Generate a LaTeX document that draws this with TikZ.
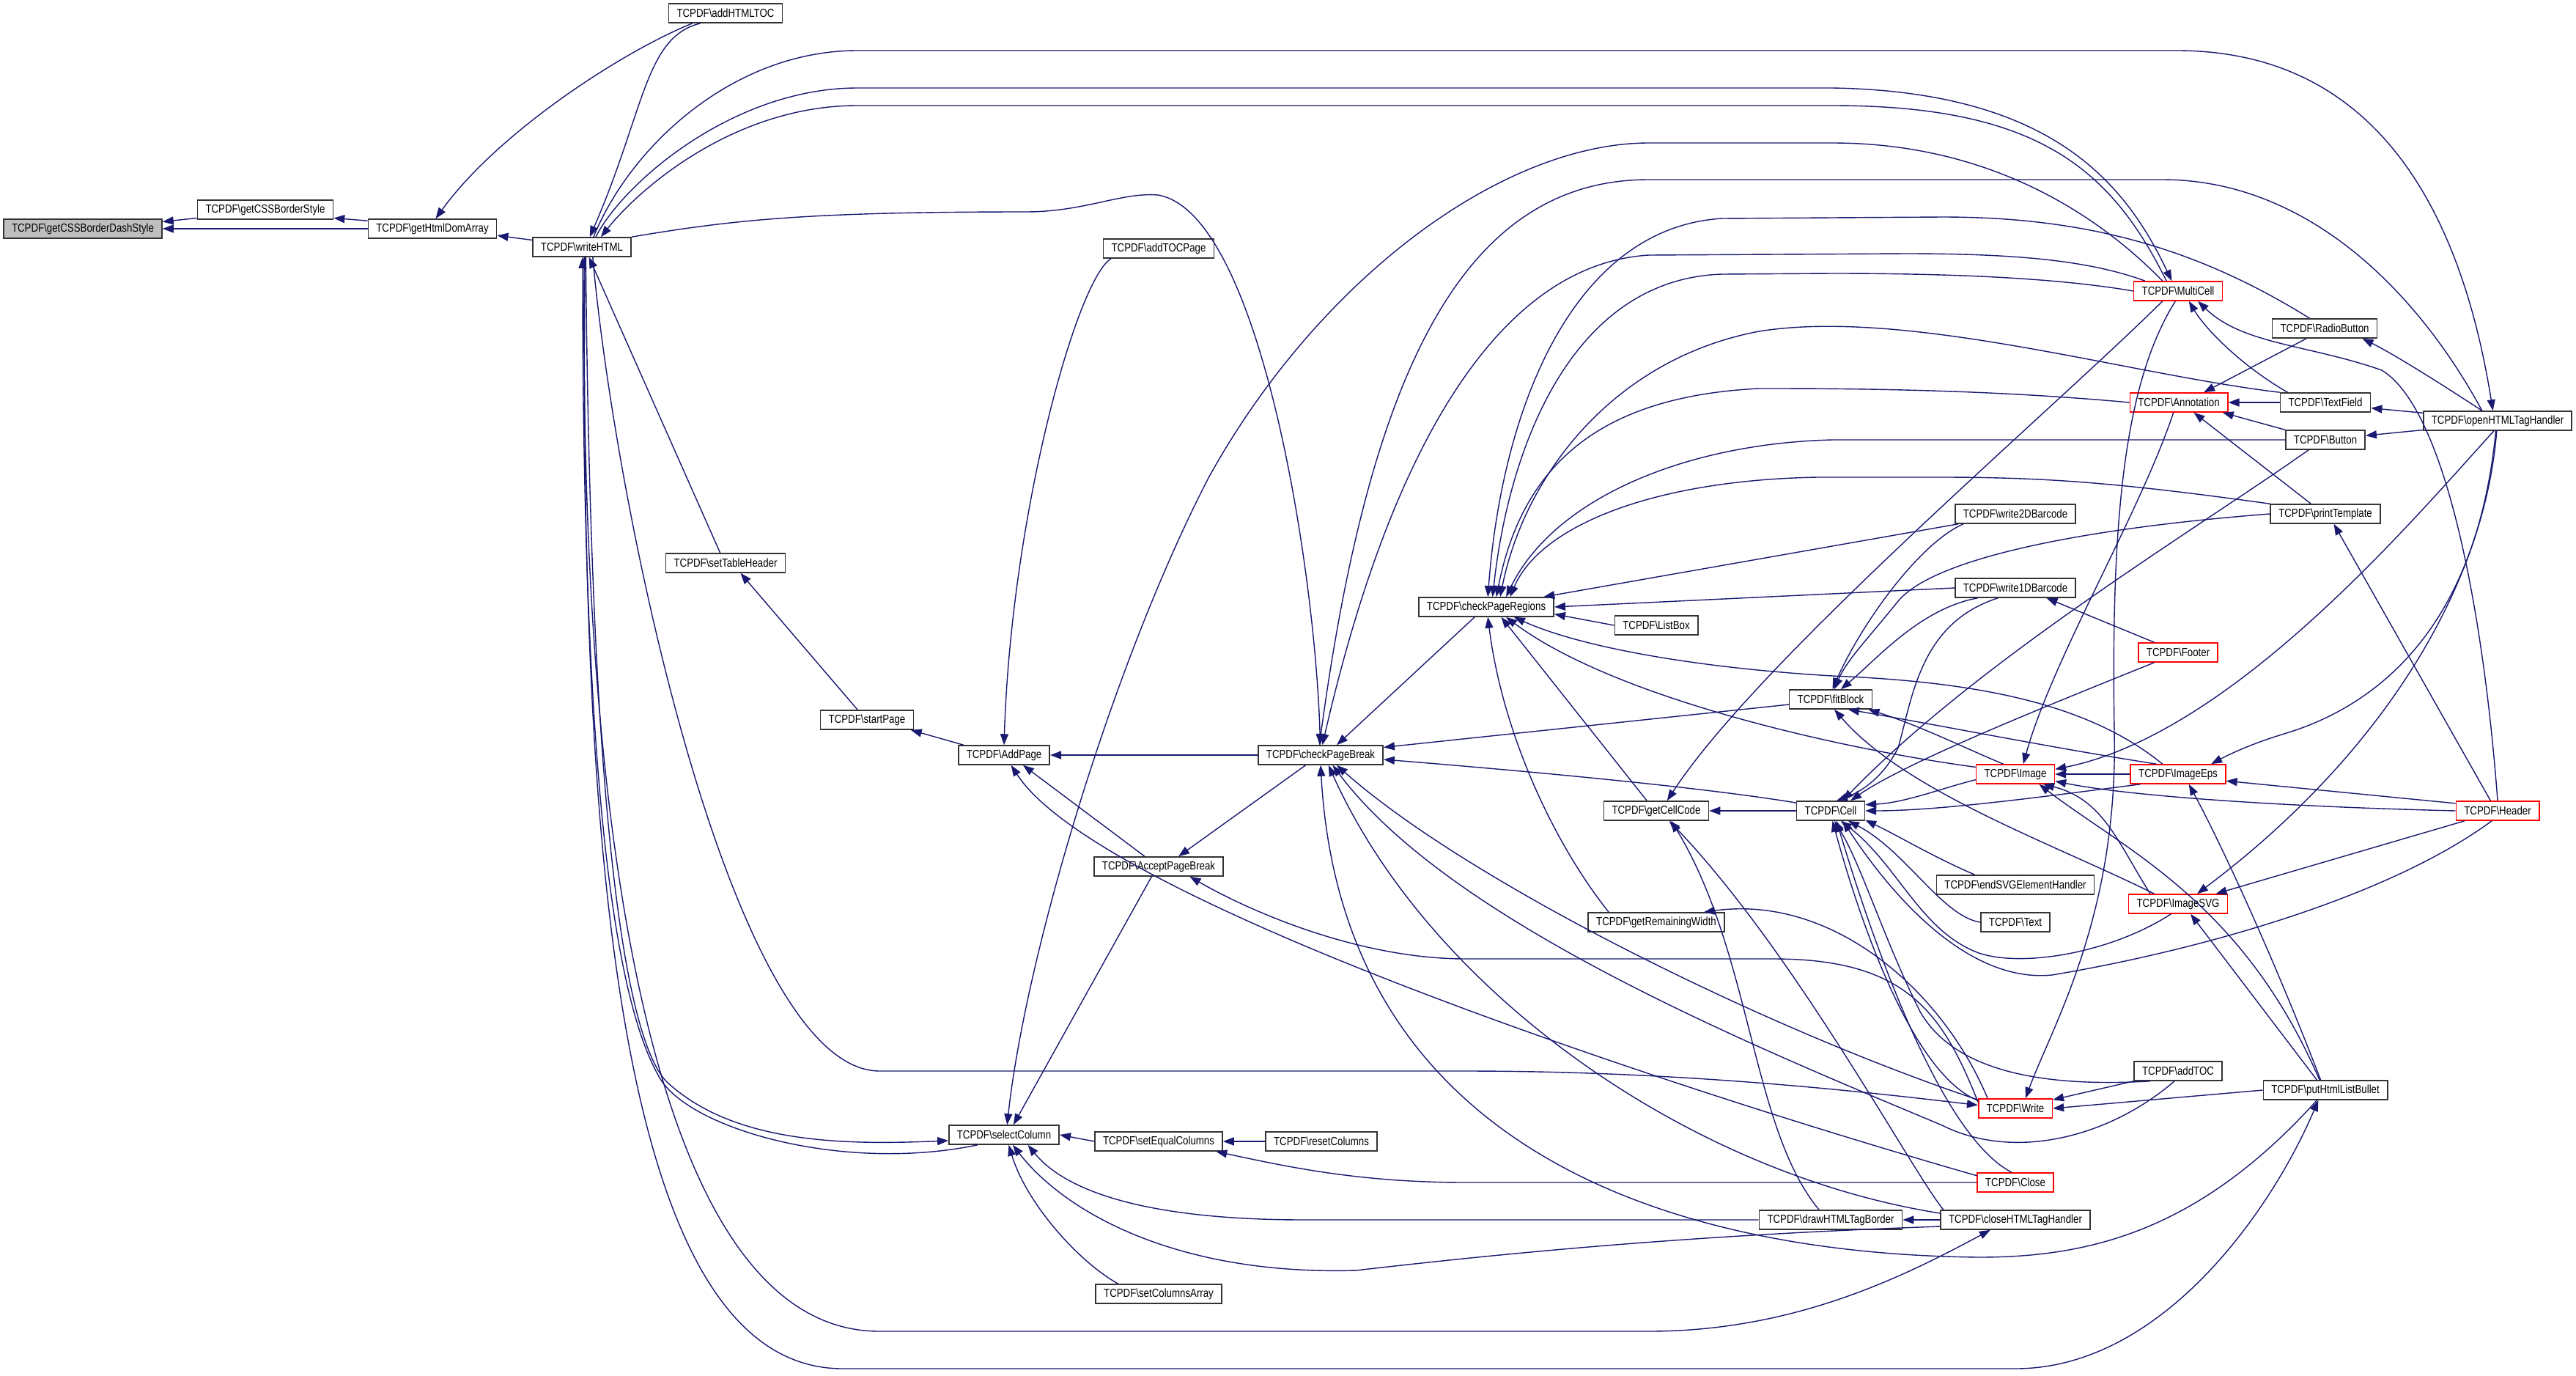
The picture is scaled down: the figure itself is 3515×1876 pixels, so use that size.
\documentclass[tikz,border=0pt]{standalone}
\usepackage{fontspec}
\setmainfont{Liberation Sans}[FakeStretch=0.83]
\usetikzlibrary{arrows.meta}
\definecolor{callblue}{RGB}{25,25,112}
\definecolor{rootgray}{RGB}{191,191,191}
\newcommand{\tc}[1]{TCPDF\textbackslash #1}
\tikzset{
  fn/.style={draw=black!80, line width=0.9pt, fill=white, font=\fontsize{9.1}{10}\selectfont,
    minimum height=0.52cm, inner ysep=0pt, inner xsep=0.22cm},
  fnred/.style={fn, draw=red},
  fnroot/.style={fn, fill=rootgray},
  call/.style={draw=callblue, line width=0.8pt, -{Triangle[length=0.3cm,width=0.22cm]}}
}
\begin{document}
\begin{tikzpicture}[x=0.02cm,y=-0.02cm]
  \useasboundingbox (0,0) rectangle (3515,1876);
  % functions
  \node[fnroot] (dash) at (113,312) {\tc{getCSSBorderDashStyle}};
  \node[fn] (cssstyle) at (362,286) {\tc{getCSSBorderStyle}};
  \node[fn] (domarray) at (590,312) {\tc{getHtmlDomArray}};
  \node[fn] (writehtml) at (794,337) {\tc{writeHTML}};
  \node[fn] (addhtmltoc) at (990,18) {\tc{addHTMLTOC}};
  \node[fn] (addtocpage) at (1581,339) {\tc{addTOCPage}};
  \node[fn] (settablehdr) at (990,768) {\tc{setTableHeader}};
  \node[fn] (startpage) at (1183,982) {\tc{startPage}};
  \node[fn] (addpage) at (1370,1030) {\tc{AddPage}};
  \node[fn] (acceptpb) at (1581,1182) {\tc{AcceptPageBreak}};
  \node[fn] (checkpb) at (1802,1030) {\tc{checkPageBreak}};
  \node[fn] (checkpr) at (2028,828) {\tc{checkPageRegions}};
  \node[fn] (listbox) at (2260,853) {\tc{ListBox}};
  \node[fn] (fitblock) at (2498,954) {\tc{fitBlock}};
  \node[fn] (getcellcode) at (2260,1106) {\tc{getCellCode}};
  \node[fn] (cell) at (2498,1106) {\tc{Cell}};
  \node[fn] (getremw) at (2260,1258) {\tc{getRemainingWidth}};
  \node[fn] (selectcol) at (1370,1548) {\tc{selectColumn}};
  \node[fn] (setequal) at (1581,1557) {\tc{setEqualColumns}};
  \node[fn] (resetcols) at (1803,1557) {\tc{resetColumns}};
  \node[fn] (setcolarr) at (1581,1765) {\tc{setColumnsArray}};
  \node[fn] (drawborder) at (2498,1664) {\tc{drawHTMLTagBorder}};
  \node[fn] (closetag) at (2750,1664) {\tc{closeHTMLTagHandler}};
  \node[fnred] (multicell) at (2972,397) {\tc{MultiCell}};
  \node[fn] (radiobtn) at (3172,448) {\tc{RadioButton}};
  \node[fnred] (annotation) at (2973,549) {\tc{Annotation}};
  \node[fn] (textfield) at (3173,549) {\tc{TextField}};
  \node[fn] (button) at (3173,600) {\tc{Button}};
  \node[fn] (opentag) at (3408,574) {\tc{openHTMLTagHandler}};
  \node[fn] (write2d) at (2750,701) {\tc{write2DBarcode}};
  \node[fn] (printtpl) at (3173,701) {\tc{printTemplate}};
  \node[fn] (write1d) at (2750,802) {\tc{write1DBarcode}};
  \node[fnred] (footer) at (2972,890) {\tc{Footer}};
  \node[fnred] (image) at (2750,1056) {\tc{Image}};
  \node[fnred] (imageeps) at (2972,1056) {\tc{ImageEps}};
  \node[fnred] (header) at (3408,1106) {\tc{Header}};
  \node[fn] (endsvg) at (2750,1207) {\tc{endSVGElementHandler}};
  \node[fnred] (imagesvg) at (2972,1233) {\tc{ImageSVG}};
  \node[fn] (text) at (2750,1258) {\tc{Text}};
  \node[fn] (addtoc) at (2972,1461) {\tc{addTOC}};
  \node[fnred] (write) at (2750,1512) {\tc{Write}};
  \node[fn] (putbullet) at (3173,1487) {\tc{putHtmlListBullet}};
  \node[fnred] (close) at (2750,1613) {\tc{Close}};
  % calls, left part
  \draw[call] (cssstyle.-173) -- (dash.5);
  \draw[call] (domarray.west) -- (dash.east);
  \draw[call] (domarray.173) -- (cssstyle.-7);
  \draw[call] (writehtml.172) -- (domarray.-6);
  \draw[call] (addhtmltoc.-163) .. controls (850,70) and (680,180) .. (domarray.72);
  \draw[call] (addhtmltoc.-158) .. controls (880,50) and (880,150) .. (writehtml.52);
  \draw[call] (writehtml.36) .. controls (850,250) and (1000,120) .. (1170,120) -- (2500,120) .. controls (2800,125) and (2900,250) .. (multicell.122);
  \draw[call] (multicell.139) .. controls (2880,230) and (2780,144) .. (2500,144) -- (1170,144) .. controls (1000,144) and (870,260) .. (writehtml.28);
  \draw[call] (writehtml.41) .. controls (860,200) and (1000,69) .. (1170,69) -- (2970,69) .. controls (3250,69) and (3360,300) .. (opentag.115);
  \draw[call] (writehtml.north east) .. controls (1000,300) and (1100,289) .. (1400,289) .. controls (1480,289) and (1530,262) .. (1580,266) .. controls (1720,290) and (1795,780) .. (checkpb.92);
  \draw[call] (settablehdr.118) -- (writehtml.-55);
  \draw[call] (startpage.133) -- (settablehdr.-34);
  \draw[call] (addpage.166) -- (startpage.-13);
  \draw[call] (checkpb.west) -- (addpage.east);
  \draw[call] (addtocpage.-168) .. controls (1470,380) and (1380,700) .. (addpage.north);
  \draw[call] (acceptpb.144) -- (addpage.-28);
  \draw[call] (close.170) .. controls (2300,1490) and (1500,1230) .. (addpage.-55);
  \draw[call] (checkpb.-146) -- (acceptpb.27);
  \draw[call] (write.170) .. controls (2650,1380) and (2600,1308) .. (2420,1308) -- (2000,1308) .. controls (1850,1308) and (1700,1240) .. (acceptpb.-18);
  \draw[call] (acceptpb.-125) -- (selectcol.47);
  \draw[call] (multicell.147) .. controls (2850,280) and (2700,195) .. (2500,195) -- (2250,195) .. controls (2050,195) and (1800,380) .. (1650,650) .. controls (1520,900) and (1400,1300) .. (selectcol.73);
  \draw[call] (setequal.west) -- (selectcol.east);
  \draw[call] (resetcols.west) -- (setequal.east);
  \draw[call] (close.west) -- (2000,1613) .. controls (1850,1613) and (1750,1590) .. (setequal.-10);
  \draw[call] (drawborder.west) -- (1780,1664) .. controls (1550,1664) and (1450,1620) .. (selectcol.-23);
  \draw[call] (closetag.-175) .. controls (2300,1685) and (2050,1710) .. (1850,1733) .. controls (1600,1740) and (1450,1650) .. (selectcol.-49);
  \draw[call] (setcolarr.166) .. controls (1470,1720) and (1400,1640) .. (selectcol.-65);
  \draw[call] (writehtml.-69) .. controls (805,1000) and (840,1400) .. (909,1475) .. controls (1000,1560) and (1150,1562) .. (selectcol.-174);
  \draw[call] (selectcol.-159) .. controls (1150,1600) and (940,1540) .. (900,1470) .. controls (830,1350) and (795,1000) .. (writehtml.-86);
  \draw[call] (writehtml.-43) .. controls (840,700) and (1000,1460) .. (1200,1461) -- (2000,1461) .. controls (2300,1461) and (2550,1490) .. (write.175);
  \draw[call] (writehtml.-77) .. controls (790,1100) and (880,1816) .. (1200,1816) -- (2250,1816) .. controls (2450,1816) and (2600,1740) .. (closetag.-158);
  \draw[call] (writehtml.-73) .. controls (790,1200) and (850,1867) .. (1150,1867) -- (2750,1867) .. controls (2950,1867) and (3100,1650) .. (putbullet.-125);
  % calls into checkPageBreak
  \draw[call] (checkpr.-139) -- (checkpb.32);
  \draw[call] (fitblock.-173) -- (checkpb.7);
  \draw[call] (cell.167) .. controls (2300,1070) and (2000,1045) .. (checkpb.-4);
  \draw[call] (opentag.147) .. controls (3300,400) and (3150,245) .. (2950,245) -- (2250,245) .. controls (2000,245) and (1870,500) .. (checkpb.97);
  \draw[call] (multicell.163) .. controls (2850,355) and (2750,346) .. (2600,346) -- (2250,348) .. controls (2050,360) and (1900,600) .. (checkpb.80);
  \draw[call] (closetag.175) .. controls (2300,1600) and (1950,1350) .. (checkpb.-52);
  \draw[call] (write.167) .. controls (2400,1400) and (2000,1200) .. (checkpb.-32);
  \draw[call] (addtoc.-110) .. controls (2880,1550) and (2750,1585) .. (2650,1535) .. controls (2400,1430) and (1980,1260) .. (checkpb.-40);
  \draw[call] (putbullet.-130) .. controls (3000,1680) and (2850,1715) .. (2700,1715) .. controls (2250,1710) and (1830,1550) .. (checkpb.-90);
  % calls into checkPageRegions
  \draw[call] (multicell.west) .. controls (2800,378) and (2650,373) .. (2500,373) -- (2350,374) .. controls (2150,380) and (2060,600) .. (checkpr.58);
  \draw[call] (radiobtn.146) .. controls (3000,340) and (2850,296) .. (2650,296) -- (2350,298) .. controls (2150,310) and (2050,550) .. (checkpr.81);
  \draw[call] (annotation.west) .. controls (2700,530) and (2500,530) .. (2400,530) .. controls (2200,540) and (2080,620) .. (checkpr.45);
  \draw[call] (textfield.north west) .. controls (2900,510) and (2600,420) .. (2400,452) .. controls (2200,490) and (2080,650) .. (checkpr.36);
  \draw[call] (button.west) -- (2500,600) .. controls (2300,605) and (2120,680) .. (checkpr.27);
  \draw[call] (printtpl.north west) .. controls (2900,660) and (2800,651) .. (2650,651) -- (2480,651) .. controls (2250,655) and (2100,720) .. (checkpr.23);
  \draw[call] (write2d.-170) -- (checkpr.10);
  \draw[call] (write1d.west) -- (checkpr.east);
  \draw[call] (listbox.west) -- (checkpr.-6);
  \draw[call] (imageeps.147) .. controls (2850,960) and (2700,930) .. (2500,922) .. controls (2300,910) and (2150,880) .. (checkpr.-20);
  \draw[call] (image.170) .. controls (2500,1020) and (2200,950) .. (checkpr.-27);
  \draw[call] (getremw.168) .. controls (2120,1150) and (2050,1000) .. (checkpr.-81);
  \draw[call] (getcellcode.133) -- (checkpr.-34);
  % calls into fitBlock, getCellCode and Cell
  \draw[call] (write2d.-169) .. controls (2620,740) and (2540,850) .. (fitblock.80);
  \draw[call] (printtpl.west) .. controls (2850,720) and (2640,760) .. (2590,820) .. controls (2550,870) and (2520,900) .. (fitblock.70);
  \draw[call] (write1d.-165) .. controls (2620,830) and (2560,900) .. (fitblock.45);
  \draw[call] (image.140) .. controls (2680,1020) and (2620,990) .. (fitblock.-15);
  \draw[call] (imageeps.155) .. controls (2800,1020) and (2650,990) .. (fitblock.-30);
  \draw[call] (imagesvg.157) .. controls (2800,1150) and (2600,1080) .. (fitblock.-70);
  \draw[call] (cell.west) -- (getcellcode.east);
  \draw[call] (multicell.-147) .. controls (2800,560) and (2400,900) .. (getcellcode.43);
  \draw[call] (drawborder.139) .. controls (2390,1540) and (2390,1300) .. (getcellcode.-34);
  \draw[call] (closetag.172) .. controls (2610,1600) and (2450,1300) .. (getcellcode.-38);
  \draw[call] (button.-149) .. controls (3000,720) and (2700,900) .. (cell.40);
  \draw[call] (footer.-157) .. controls (2800,960) and (2600,1040) .. (cell.27);
  \draw[call] (write1d.-150) .. controls (2620,850) and (2610,950) .. (2590,1020) .. controls (2570,1060) and (2540,1080) .. (cell.60);
  \draw[call] (image.-172) .. controls (2650,1075) and (2600,1095) .. (cell.10);
  \draw[call] (imageeps.-165) .. controls (2800,1085) and (2650,1106) .. (cell.east);
  \draw[call] (endsvg.166) .. controls (2640,1170) and (2590,1140) .. (cell.-15);
  \draw[call] (text.west) .. controls (2650,1250) and (2600,1160) .. (cell.-30);
  \draw[call] (imagesvg.-125) .. controls (2880,1300) and (2760,1320) .. (2700,1300) .. controls (2620,1270) and (2590,1180) .. (cell.-45);
  \draw[call] (header.-120) .. controls (3250,1230) and (2980,1300) .. (2800,1330) .. controls (2700,1340) and (2600,1250) .. (cell.-40);
  \draw[call] (write.168) .. controls (2620,1470) and (2550,1300) .. (cell.-80);
  \draw[call] (addtoc.-160) .. controls (2760,1485) and (2660,1450) .. (2620,1380) .. controls (2570,1280) and (2540,1180) .. (cell.-70);
  \draw[call] (close.110) .. controls (2650,1550) and (2560,1300) .. (cell.-60);
  \draw[call] (write.160) .. controls (2650,1350) and (2500,1220) .. (getremw.12);
  % calls among the right-hand functions
  \draw[call] (multicell.-105) .. controls (2900,520) and (2880,700) .. (2885,1000) .. controls (2890,1250) and (2800,1400) .. (write.45);
  \draw[call] (textfield.165) .. controls (3060,500) and (3010,450) .. (multicell.-43);
  \draw[call] (header.north) .. controls (3390,850) and (3340,560) .. (3250,505) .. controls (3150,470) and (3060,470) .. (multicell.-27);
  \draw[call] (textfield.west) -- (annotation.east);
  \draw[call] (radiobtn.-151) -- (annotation.22);
  \draw[call] (button.166) -- (annotation.-13);
  \draw[call] (printtpl.145) -- (annotation.-34);
  \draw[call] (opentag.147) .. controls (3310,510) and (3260,480) .. (radiobtn.-15);
  \draw[call] (opentag.174) -- (textfield.-7);
  \draw[call] (opentag.-173) -- (button.6);
  \draw[call] (annotation.-118) .. controls (2920,700) and (2800,900) .. (image.52);
  \draw[call] (footer.157) -- (write1d.-18);
  \draw[call] (header.125) -- (printtpl.-50);
  \draw[call] (header.west) .. controls (3100,1100) and (2900,1085) .. (image.-10);
  \draw[call] (header.170) -- (imageeps.-8);
  \draw[call] (header.-163) -- (imagesvg.15);
  \draw[call] (imageeps.west) -- (image.east);
  \draw[call] (imagesvg.160) .. controls (2890,1150) and (2870,1090) .. (image.-20);
  \draw[call] (opentag.-100) .. controls (3380,850) and (3250,960) .. (3120,1000) .. controls (3070,1015) and (3040,1030) .. (imageeps.17);
  \draw[call] (opentag.-95) .. controls (3390,800) and (3250,1030) .. (imagesvg.28);
  \draw[call] (opentag.-110) .. controls (3300,700) and (3050,1000) .. (image.7);
  \draw[call] (putbullet.west) -- (write.east);
  \draw[call] (putbullet.130) -- (imagesvg.-39);
  \draw[call] (putbullet.115) .. controls (3100,1300) and (3030,1150) .. (imageeps.-43);
  \draw[call] (putbullet.120) .. controls (3060,1230) and (2900,1160) .. (image.-23);
  \draw[call] (addtoc.south west) -- (write.13);
  \draw[call] (closetag.west) -- (drawborder.east);
\end{tikzpicture}
\end{document}
